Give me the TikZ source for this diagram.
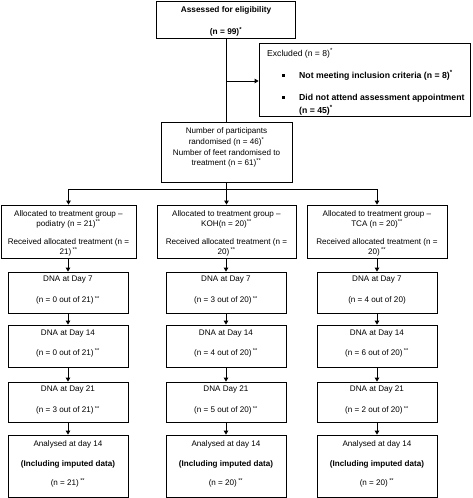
\documentclass[tikz,border=0pt]{standalone}
\usepackage{fontspec}
\setmainfont{Liberation Sans}
\usetikzlibrary{arrows.meta}
\newcommand{\dstar}{\,\textsuperscript{**}}
\begin{document}
\begin{tikzpicture}[x=1pt,y=-1pt,
  box/.style={draw, line width=0.8pt, inner sep=0pt},
  txt/.style={inner sep=0pt, align=center, font=\fontsize{8.1}{10}\selectfont},
  arr/.style={line width=0.8pt, -{Triangle[length=4pt,width=4.5pt]}},
  ln/.style={line width=0.8pt}]
\useasboundingbox (0,0) rectangle (473,498);
\fill[white] (0,0) rectangle (473,498);

% top
\node[box, minimum width=139pt, minimum height=37pt] (top) at (226,19.5) {};
\node[txt, font=\fontsize{8.3}{10}\selectfont\bfseries] at ([yshift=-1.4pt]top.center) {Assessed for eligibility\\[12pt](n = 99)\textsuperscript{*}};

% excluded
\node[box, minimum width=211pt, minimum height=73pt] (excl) at (364.5,79.5) {};
\node[txt, anchor=base west, font=\fontsize{8.6}{10}\selectfont] at (267,56) {Excluded (n = 8)\textsuperscript{*}};
\node[txt, anchor=base west, font=\fontsize{8.7}{10}\selectfont\bfseries] at (282,78) {\rule[1.2pt]{2.4pt}{2.4pt}\hspace{14.6pt}Not meeting inclusion criteria (n = 8)\textsuperscript{*}};
\node[txt, anchor=base west, font=\fontsize{8.7}{10}\selectfont\bfseries] at (282,100) {\rule[1.2pt]{2.4pt}{2.4pt}\hspace{14.6pt}Did not attend assessment appointment};
\node[txt, anchor=base west, font=\fontsize{8.7}{10}\selectfont\bfseries] at (299,113) {(n = 45)\textsuperscript{*}};

% randomised
\node[box, minimum width=131pt, minimum height=60pt] (rand) at (226.5,152) {};
\node[txt, font=\fontsize{8.1}{10.4}\selectfont] at ([yshift=4.5pt]rand.center) {Number of participants\\randomised (n = 46)\textsuperscript{*}\\[0.5pt]Number of feet randomised to\\treatment (n = 61)\textsuperscript{**}};

\coordinate (split) at (226,81);
\coordinate (bus) at (226.5,189);
\draw[ln] (top.south) -- (top.south |- rand.north);
\draw[arr] (split) -- (split -| excl.west);

% allocation
\node[box, minimum width=135pt, minimum height=53pt] (aL) at (68.5,231.5) {};
\node[box, minimum width=139pt, minimum height=53pt] (aM) at (226.5,231.5) {};
\node[box, minimum width=140pt, minimum height=53pt] (aR) at (377,231.5) {};
\node[txt] at ([yshift=-1.5pt]aL.center) {Allocated to treatment group \textendash\\podiatry (n = 21)\textsuperscript{**}\\[8pt]Received allocated treatment (n =\\21)\dstar};
\node[txt] at ([yshift=-1.5pt]aM.center) {Allocated to treatment group \textendash\\KOH(n = 20)\textsuperscript{**}\\[8pt]Received allocated treatment (n =\\20)\dstar};
\node[txt] at ([yshift=-1.5pt]aR.center) {Allocated to treatment group \textendash\\TCA (n = 20)\textsuperscript{**}\\[8pt]Received allocated treatment (n =\\20)\dstar};

\draw[arr] (rand.south) -- (aM.north);
\draw[arr] (bus) -| (aL.north);
\draw[arr] (bus) -| (aR.north);

% DNA day 7
\node[box, minimum width=120pt, minimum height=41pt] (sL) at (68,292.5) {};
\node[box, minimum width=120pt, minimum height=41pt] (sM) at (226,292.5) {};
\node[box, minimum width=120pt, minimum height=41pt] (sR) at (377,292.5) {};
\node[txt] at ([yshift=2pt]sL.center) {DNA at Day 7\\[11pt](n = 0 out of 21)\dstar};
\node[txt] at ([yshift=2pt]sM.center) {DNA at Day 7\\[11pt](n = 3 out of 20)\dstar};
\node[txt] at ([yshift=2pt]sR.center) {DNA at Day 7\\[11pt](n = 4 out of 20)};

% DNA day 14
\node[box, minimum width=120pt, minimum height=42pt] (fL) at (68,346) {};
\node[box, minimum width=120pt, minimum height=42pt] (fM) at (226,346) {};
\node[box, minimum width=120pt, minimum height=42pt] (fR) at (377,346) {};
\node[txt] at ([yshift=2.5pt]fL.center) {DNA at Day 14\\[10.5pt](n = 0 out of 21)\dstar};
\node[txt] at ([yshift=2.5pt]fM.center) {DNA at Day 14\\[10.5pt](n = 4 out of 20)\dstar};
\node[txt] at ([yshift=2.5pt]fR.center) {DNA at Day 14\\[10.5pt](n = 6 out of 20)\dstar};

% DNA day 21
\node[box, minimum width=120pt, minimum height=40pt] (tL) at (68,402) {};
\node[box, minimum width=120pt, minimum height=40pt] (tM) at (226,402) {};
\node[box, minimum width=120pt, minimum height=40pt] (tR) at (377,402) {};
\node[txt] at ([yshift=1.5pt]tL.center) {DNA at Day 21\\[11pt](n = 3 out of 21)\dstar};
\node[txt] at ([yshift=1.5pt]tM.center) {DNA Day 21\\[11pt](n = 5 out of 20)\dstar};
\node[txt] at ([yshift=1.5pt]tR.center) {DNA at Day 21\\[11pt](n = 2 out of 20)\dstar};

% analysed
\node[box, minimum width=120pt, minimum height=62pt] (nL) at (68,466) {};
\node[box, minimum width=120pt, minimum height=62pt] (nM) at (226,466) {};
\node[box, minimum width=120pt, minimum height=62pt] (nR) at (377,466) {};
\node[txt] at ([yshift=2.5pt]nL.center) {Analysed at day 14\\[10pt]\textbf{(Including imputed data)}\\[9pt](n = 21)\dstar};
\node[txt] at ([yshift=2.5pt]nM.center) {Analysed at day 14\\[10pt]\textbf{(Including imputed data)}\\[9pt](n = 20)\dstar};
\node[txt] at ([yshift=2.5pt]nR.center) {Analysed at day 14\\[10pt]\textbf{(Including imputed data)}\\[9pt](n = 20)\dstar};

% vertical connectors
\foreach \a/\b in {aL/sL, aM/sM, aR/sR, sL/fL, sM/fM, sR/fR, fL/tL, fM/tM, fR/tR, tL/nL, tM/nM, tR/nR}
  \draw[arr] (\a.south -| \b.north) -- (\b.north);
\end{tikzpicture}
\end{document}
